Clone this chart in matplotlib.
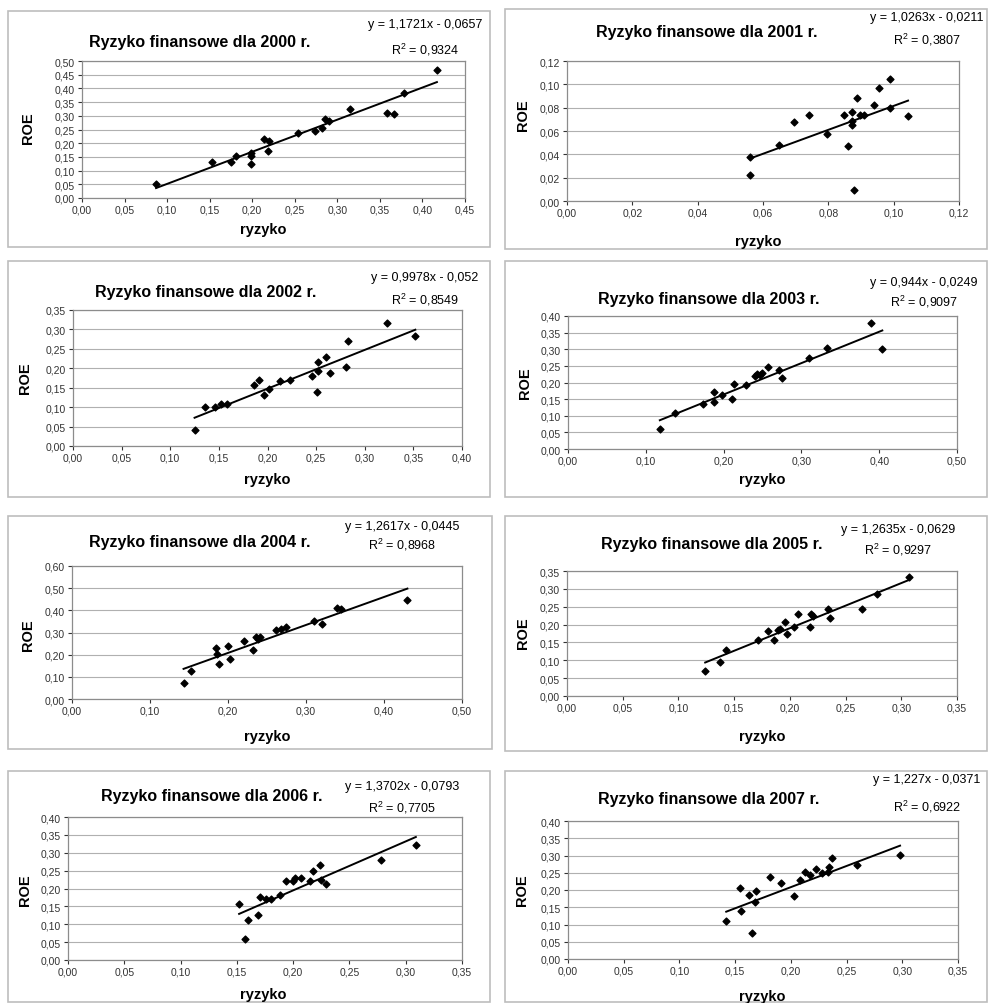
import numpy as np
import matplotlib
matplotlib.use("Agg")
import matplotlib.pyplot as plt
from matplotlib.patches import Rectangle

plt.rcParams['font.family'] = ['Liberation Sans', 'DejaVu Sans']

years = [2000, 2001, 2002, 2003, 2004, 2005, 2006, 2007]

#########  data
x2000 = [0.087, 0.153, 0.175, 0.181, 0.198, 0.198, 0.198, 0.214, 0.218, 0.220,
         0.254, 0.274, 0.282, 0.286, 0.290, 0.315, 0.358, 0.367, 0.378, 0.417]
y2000 = [0.050, 0.130, 0.130, 0.154, 0.166, 0.154, 0.124, 0.215, 0.172, 0.209,
         0.239, 0.245, 0.257, 0.288, 0.282, 0.326, 0.312, 0.306, 0.385, 0.466]

x2001 = [0.0559, 0.0559, 0.0650, 0.0695, 0.0741, 0.0797, 0.0848, 0.0860, 0.0873, 0.0873,
         0.0873, 0.0880, 0.0888, 0.0896, 0.0909, 0.0941, 0.0954, 0.0990, 0.0990, 0.1044]
y2001 = [0.0376, 0.0225, 0.0480, 0.0680, 0.0737, 0.0575, 0.0737, 0.0470, 0.0760, 0.0689,
         0.0650, 0.0097, 0.0880, 0.0737, 0.0737, 0.0822, 0.0967, 0.1044, 0.0800, 0.0725]

x2002 = [0.125, 0.136, 0.146, 0.152, 0.158, 0.186, 0.191, 0.196, 0.202, 0.213, 0.223,
         0.246, 0.251, 0.252, 0.252, 0.260, 0.264, 0.281, 0.283, 0.323, 0.352]
y2002 = [0.040, 0.101, 0.101, 0.108, 0.108, 0.157, 0.170, 0.132, 0.146, 0.166, 0.170,
         0.181, 0.138, 0.192, 0.215, 0.230, 0.188, 0.204, 0.271, 0.316, 0.282]

x2003 = [0.118, 0.138, 0.174, 0.188, 0.188, 0.198, 0.211, 0.214, 0.229, 0.241,
         0.243, 0.247, 0.249, 0.257, 0.271, 0.275, 0.310, 0.333, 0.389, 0.404]
y2003 = [0.060, 0.108, 0.135, 0.170, 0.140, 0.162, 0.150, 0.195, 0.192, 0.220,
         0.227, 0.222, 0.230, 0.247, 0.238, 0.215, 0.275, 0.305, 0.378, 0.302]

x2004 = [0.143, 0.153, 0.185, 0.186, 0.188, 0.200, 0.203, 0.220, 0.232, 0.236,
         0.238, 0.241, 0.262, 0.268, 0.274, 0.310, 0.320, 0.340, 0.345, 0.430]
y2004 = [0.070, 0.125, 0.230, 0.205, 0.160, 0.240, 0.180, 0.260, 0.220, 0.280,
         0.270, 0.280, 0.310, 0.315, 0.325, 0.350, 0.340, 0.410, 0.405, 0.445]

x2005 = [0.124, 0.137, 0.143, 0.171, 0.180, 0.186, 0.189, 0.191, 0.196, 0.197,
         0.204, 0.207, 0.218, 0.219, 0.221, 0.234, 0.236, 0.265, 0.278, 0.307]
y2005 = [0.070, 0.095, 0.130, 0.156, 0.182, 0.157, 0.184, 0.188, 0.208, 0.175,
         0.193, 0.229, 0.192, 0.230, 0.224, 0.243, 0.219, 0.245, 0.285, 0.334]

x2006 = [0.152, 0.157, 0.160, 0.169, 0.171, 0.176, 0.180, 0.188, 0.194, 0.200,
         0.202, 0.207, 0.215, 0.218, 0.224, 0.225, 0.229, 0.278, 0.309]
y2006 = [0.156, 0.060, 0.112, 0.125, 0.177, 0.172, 0.172, 0.183, 0.220, 0.220,
         0.229, 0.229, 0.220, 0.248, 0.267, 0.225, 0.213, 0.281, 0.322]

x2007 = [0.142, 0.154, 0.155, 0.162, 0.165, 0.168, 0.169, 0.181, 0.191, 0.203,
         0.208, 0.213, 0.217, 0.223, 0.228, 0.233, 0.234, 0.237, 0.259, 0.298]
y2007 = [0.111, 0.207, 0.138, 0.186, 0.074, 0.166, 0.196, 0.238, 0.220, 0.183,
         0.229, 0.252, 0.243, 0.262, 0.248, 0.252, 0.268, 0.292, 0.272, 0.301]

xs = [x2000, x2001, x2002, x2003, x2004, x2005, x2006, x2007]
ys = [y2000, y2001, y2002, y2003, y2004, y2005, y2006, y2007]

#########  trendlines as printed on the charts
slopes = [1.1721, 1.0263, 0.9978, 0.944, 1.2617, 1.2635, 1.3702, 1.227]
intercepts = [-0.0657, -0.0211, -0.052, -0.0249, -0.0445, -0.0629, -0.0793, -0.0371]
eq_texts = ['1,1721x - 0,0657', '1,0263x - 0,0211', '0,9978x - 0,052', '0,944x - 0,0249',
            '1,2617x - 0,0445', '1,2635x - 0,0629', '1,3702x - 0,0793', '1,227x - 0,0371']
r2_texts = ['0,9324', '0,3807', '0,8549', '0,9097', '0,8968', '0,9297', '0,7705', '0,6922']

#########  axis ranges
x_max = [0.45, 0.12, 0.40, 0.50, 0.50, 0.35, 0.35, 0.35]
x_step = [0.05, 0.02, 0.05, 0.10, 0.10, 0.05, 0.05, 0.05]
y_max = [0.50, 0.12, 0.35, 0.40, 0.60, 0.35, 0.40, 0.40]
y_step = [0.05, 0.02, 0.05, 0.05, 0.10, 0.05, 0.05, 0.05]

W, H = 990, 1004
fig = plt.figure(figsize=(W / 100, H / 100), dpi=100)

# layout in pixels: frame box, plot area, title, equation, axis labels
frames = [(8, 12, 490, 248), (505, 10, 987, 250), (8, 262, 490, 498), (505, 262, 987, 498),
          (8, 517, 492, 750), (505, 517, 987, 752), (8, 772, 490, 1003), (505, 772, 987, 1003)]
plots = [(82, 62, 465, 199), (567, 62, 959, 202), (73, 311, 462, 447), (568, 317, 957, 450),
         (72, 567, 462, 700), (567, 572, 957, 697), (68, 818, 462, 961), (568, 822, 958, 960)]
titles = [(200, 43), (707, 33), (206, 293), (709, 300), (200, 543), (712, 545), (212, 797), (709, 800)]
eqs = [(425, 25, 50), (927, 18, 40), (425, 278, 300), (924, 283, 302),
       (402, 527, 545), (898, 530, 550), (402, 787, 808), (927, 780, 807)]
roe_pos = [(28, 128), (523, 115), (25, 378), (525, 383), (28, 635), (523, 633), (25, 890), (522, 890)]
ryz_pos = [(263, 230), (758, 242), (267, 480), (762, 480), (267, 737), (762, 737), (263, 995), (762, 997)]


def fx(px):
    return px / W


def fy(py):
    return 1 - py / H


def comma(v, pos=None):
    return ('%.2f' % v).replace('.', ',')


for i, yr in enumerate(years):
    l, t, r, b = frames[i]
    fig.patches.append(Rectangle((fx(l), fy(b)), fx(r - l), (b - t) / H, transform=fig.transFigure,
                                 facecolor='none', edgecolor='#bdbdbd', lw=1.2, zorder=-1))

    l, t, r, b = plots[i]
    ax = fig.add_axes([fx(l), fy(b), fx(r - l), (b - t) / H])
    ax.set_xlim(0, x_max[i])
    ax.set_ylim(0, y_max[i])
    ax.set_xticks(np.arange(0, x_max[i] + 1e-9, x_step[i]))
    ax.set_yticks(np.arange(0, y_max[i] + 1e-9, y_step[i]))
    ax.xaxis.set_major_formatter(plt.FuncFormatter(comma))
    ax.yaxis.set_major_formatter(plt.FuncFormatter(comma))
    ax.tick_params(labelsize=7.5, colors='#333333', length=3, width=0.8, pad=2)
    ax.grid(axis='y', color='#b0b0b0', lw=0.8)
    ax.set_axisbelow(True)
    for s in ax.spines.values():
        s.set_color('#8c8c8c')
        s.set_linewidth(0.9)

    ax.scatter(xs[i], ys[i], marker='D', s=12, color='black', zorder=3)
    xl = np.array([min(xs[i]), max(xs[i])])
    ax.plot(xl, slopes[i] * xl + intercepts[i], color='black', lw=1.4, zorder=2)

    tx, ty = titles[i]
    fig.text(fx(tx), fy(ty), 'Ryzyko finansowe dla %d r.' % yr, ha='center', va='center',
             fontsize=11.5, fontweight='bold')
    ex, ey1, ey2 = eqs[i]
    fig.text(fx(ex), fy(ey1), 'y = ' + eq_texts[i], ha='center', va='center', fontsize=9)
    fig.text(fx(ex), fy(ey2), '$\\mathregular{R^2}$ = ' + r2_texts[i], ha='center', va='center', fontsize=9)
    rx, ry = roe_pos[i]
    fig.text(fx(rx), fy(ry), 'ROE', rotation=90, ha='center', va='center', fontsize=10.5, fontweight='bold')
    zx, zy = ryz_pos[i]
    fig.text(fx(zx), fy(zy), 'ryzyko', ha='center', va='center', fontsize=10.5, fontweight='bold')

fig.savefig('out.png', dpi=100)
